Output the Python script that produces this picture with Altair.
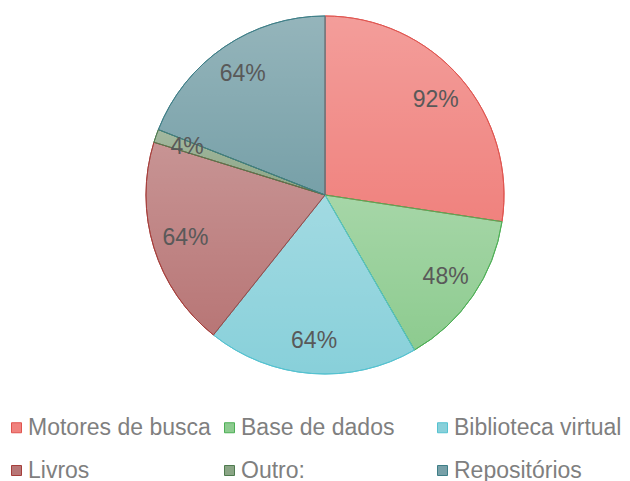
import altair as alt
import pandas as pd

categories = ["Motores de busca", "Base de dados", "Biblioteca virtual", "Livros", "Outro:", "Repositórios"]
values = [92, 48, 64, 64, 4, 64]
labels = ["92%", "48%", "64%", "64%", "4%", "64%"]
fills = ["#F0827E", "#8DCB8F", "#88D0DA", "#B87676", "#8AA585", "#77A0A8"]
strokes = ["#E0544F", "#4DAF55", "#55C2D0", "#A63E3B", "#4F7B4F", "#3E7E87"]

df = pd.DataFrame({"cat": categories, "value": values, "label": labels, "idx": list(range(len(categories)))})

CX, CY, R = 317, 187, 179

base = alt.Chart(df).encode(
    theta=alt.Theta("value:Q", stack=True),
    order=alt.Order("idx:Q"),
    x=alt.value(CX),
    y=alt.value(CY),
)

fill_scale = alt.Scale(domain=categories, range=fills)
stroke_scale = alt.Scale(domain=categories, range=strokes)

legend = alt.Legend(
    orient="none", legendX=-3, legendY=408, columns=3, direction="horizontal",
    title=None, symbolType="square", symbolSize=100, symbolStrokeWidth=1,
    symbolOpacity=1, labelFontSize=23, labelFont="Liberation Sans", labelColor="#7F7F7F",
    gridAlign="all", columnPadding=7, rowPadding=19, labelOffset=0, labelLimit=300,
    padding=0,
)

pie = base.mark_arc(radius=R, strokeWidth=1).encode(
    fill=alt.Fill("cat:N", scale=fill_scale, sort=categories, legend=legend),
    stroke=alt.Stroke("cat:N", scale=stroke_scale, sort=categories, legend=legend),
)

grad = alt.LinearGradient(
    gradient="linear",
    stops=[alt.GradientStop(color="rgba(255,255,255,0.22)", offset=0),
           alt.GradientStop(color="rgba(255,255,255,0)", offset=1)],
    x1=0, x2=0, y1=0, y2=1,
)
overlay = base.mark_arc(radius=R, fill=grad, strokeWidth=1).encode(
    stroke=alt.Stroke("cat:N", scale=stroke_scale, sort=categories, legend=legend),
)

text = base.mark_text(radius=146, fontSize=23, font="Liberation Sans", color="#595959").encode(
    text="label:N",
)

chart = alt.layer(pie, overlay, text).properties(
    width=614, height=473, autosize=alt.AutoSizeParams(type="none"), padding=0,
).configure_view(stroke=None)

chart.save("out.html", embed_options={"renderer": "svg", "actions": False})
